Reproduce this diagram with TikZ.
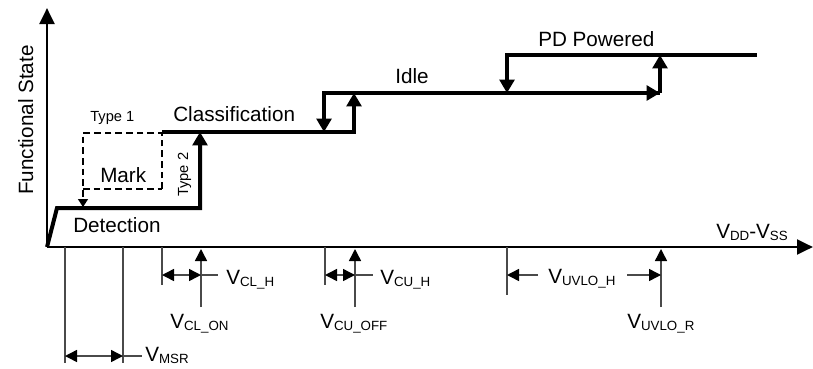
\documentclass[tikz,border=0pt]{standalone}
\usepackage{fontspec}
\setmainfont{Liberation Sans}
\usepackage{tikz}
\usetikzlibrary{arrows.meta,positioning}

\definecolor{dimline}{HTML}{4A4A4A}
\newcommand{\bigfont}{\fontsize{15.5pt}{18pt}\selectfont}
\newcommand{\smallfont}{\fontsize{11pt}{13pt}\selectfont}
\newcommand{\subfont}{\fontsize{10pt}{12pt}\selectfont}
\newcommand{\vsym}[1]{V\lower1.5pt\hbox{\subfont #1}}

\begin{document}
\begin{tikzpicture}[
    x=0.75pt, y=-0.75pt,
    axis/.style={line width=2.2pt, -{Triangle[length=12pt, width=11pt]}},
    stair/.style={line width=3pt, line join=miter},
    uptip/.style={-{Triangle[length=10pt, width=11pt]}},
    downtip/.style={{Triangle[length=10pt, width=11pt]}-},
    dimension/.style={draw=dimline, line width=1.1pt},
    dimtip/.style={{Triangle[length=9pt, width=9pt, color=black]}-{Triangle[length=9pt, width=9pt, color=black]}},
    onetip/.style={-{Triangle[length=9pt, width=9pt, color=black]}},
    window/.style={line width=1.1pt, dash pattern=on 5pt off 3pt},
    state/.style={font=\bigfont, inner sep=0pt, anchor=base west},
    typetag/.style={font=\smallfont, inner sep=0pt, anchor=base west},
    vlabel/.style={font=\bigfont, inner sep=0pt, anchor=base west},
]
    \useasboundingbox (0,0) rectangle (813,368);

    % axes
    \coordinate (origin) at (47,247);
    \coordinate (ytop) at (47,8);
    \coordinate (xend) at (813,247);
    \draw[axis] (origin) -- (ytop);
    \draw[axis] (origin) -- (xend);
    \node[state, rotate=90] (ylabel) at (33,195) {Functional State};
    \node[vlabel] (xlabel) at (716,238) {\vsym{DD}-\vsym{SS}};

    % levels
    \coordinate (det0) at (57,208);
    \coordinate (det1) at (200,208);
    \coordinate (cls0) at (162,132);
    \coordinate (cls1) at (200,132);
    \coordinate (cls2) at (324,132);
    \coordinate (cls3) at (354,132);
    \coordinate (idl0) at (324,93);
    \coordinate (idl1) at (354,93);
    \coordinate (idl2) at (507,93);
    \coordinate (idl3) at (660,93);
    \coordinate (pdp0) at (507,55);
    \coordinate (pdp1) at (660,55);
    \coordinate (pdp2) at (757,55);

    \draw[stair, uptip] (origin) -- (det0) -- (det1) -- (cls1);
    \draw[stair, uptip] (cls0) -- (cls3) -- (idl1);
    \draw[stair, downtip] (cls2) -- (idl0) -- (idl3);
    \draw[stair, uptip] (idl3) -- (pdp1);
    \draw[stair, -{Triangle[length=10pt, width=11pt]}] (idl0) -- (idl3);
    \draw[stair, downtip] (idl2) -- (pdp0) -- (pdp2);

    % mark window
    \coordinate (mk0) at (83,133);
    \coordinate (mk1) at (162,133);
    \coordinate (mk2) at (162,189);
    \coordinate (mk3) at (83,189);
    \coordinate (mk4) at (83,207);
    \draw[window, -{Triangle[length=6pt, width=7.5pt]}] (mk2) -- (mk1) -- (mk0) -- (mk4);
    \draw[window] (mk3) -- (mk2);

    % state names
    \node[typetag] (type1) at (90,121) {Type 1};
    \node[typetag, rotate=90] (type2) at (188,197) {Type 2};
    \node[state] (classification) at (173,121) {Classification};
    \node[state] (mark) at (100,182) {Mark};
    \node[state] (detection) at (73,232) {Detection};
    \node[state] (idle) at (395,83) {Idle};
    \node[state] (powered) at (538,46) {PD Powered};

    % V_MSR
    \coordinate (msr0) at (65,247);
    \coordinate (msr1) at (123,247);
    \coordinate (msr0b) at (65,363);
    \coordinate (msr1b) at (123,363);
    \coordinate (msrL) at (65,356);
    \coordinate (msrR) at (123,356);
    \coordinate (msrE) at (142,356);
    \draw[dimension] (msr0) -- (msr0b);
    \draw[dimension] (msr1) -- (msr1b);
    \draw[dimension, dimtip] (msrL) -- (msrR);
    \draw[dimension] (msrR) -- (msrE);
    \node[vlabel] (vmsr) at (145,361) {\vsym{MSR}};

    % V_CL
    \coordinate (cl0) at (162,247);
    \coordinate (cl0b) at (162,285);
    \coordinate (cl1) at (201,249);
    \coordinate (cl1b) at (201,307);
    \coordinate (clL) at (162,275);
    \coordinate (clR) at (201,275);
    \coordinate (clE) at (218,275);
    \draw[dimension] (cl0) -- (cl0b);
    \draw[dimension, onetip] (cl1b) -- (cl1);
    \draw[dimension, dimtip] (clL) -- (clR);
    \draw[dimension] (clR) -- (clE);
    \node[vlabel] (vclh) at (226,284) {\vsym{CL\_H}};
    \node[vlabel] (vclon) at (170,328) {\vsym{CL\_ON}};

    % V_CU
    \coordinate (cu0) at (325,247);
    \coordinate (cu0b) at (325,285);
    \coordinate (cu1) at (355,249);
    \coordinate (cu1b) at (355,307);
    \coordinate (cuL) at (325,275);
    \coordinate (cuR) at (355,275);
    \coordinate (cuE) at (373,275);
    \draw[dimension] (cu0) -- (cu0b);
    \draw[dimension, onetip] (cu1b) -- (cu1);
    \draw[dimension, dimtip] (cuL) -- (cuR);
    \draw[dimension] (cuR) -- (cuE);
    \node[vlabel] (vcuh) at (380,284) {\vsym{CU\_H}};
    \node[vlabel] (vcuoff) at (320,328) {\vsym{CU\_OFF}};

    % V_UVLO
    \coordinate (uv0) at (507,247);
    \coordinate (uv0b) at (507,295);
    \coordinate (uv1) at (661,249);
    \coordinate (uv1b) at (661,307);
    \coordinate (uvL) at (507,275);
    \coordinate (uvLm) at (538,275);
    \coordinate (uvRm) at (627,275);
    \coordinate (uvR) at (661,275);
    \draw[dimension] (uv0) -- (uv0b);
    \draw[dimension, onetip] (uv1b) -- (uv1);
    \draw[dimension, onetip] (uvLm) -- (uvL);
    \draw[dimension, onetip] (uvRm) -- (uvR);
    \node[vlabel] (vuvloh) at (548,283) {\vsym{UVLO\_H}};
    \node[vlabel] (vuvlor) at (627,328) {\vsym{UVLO\_R}};
\end{tikzpicture}
\end{document}
